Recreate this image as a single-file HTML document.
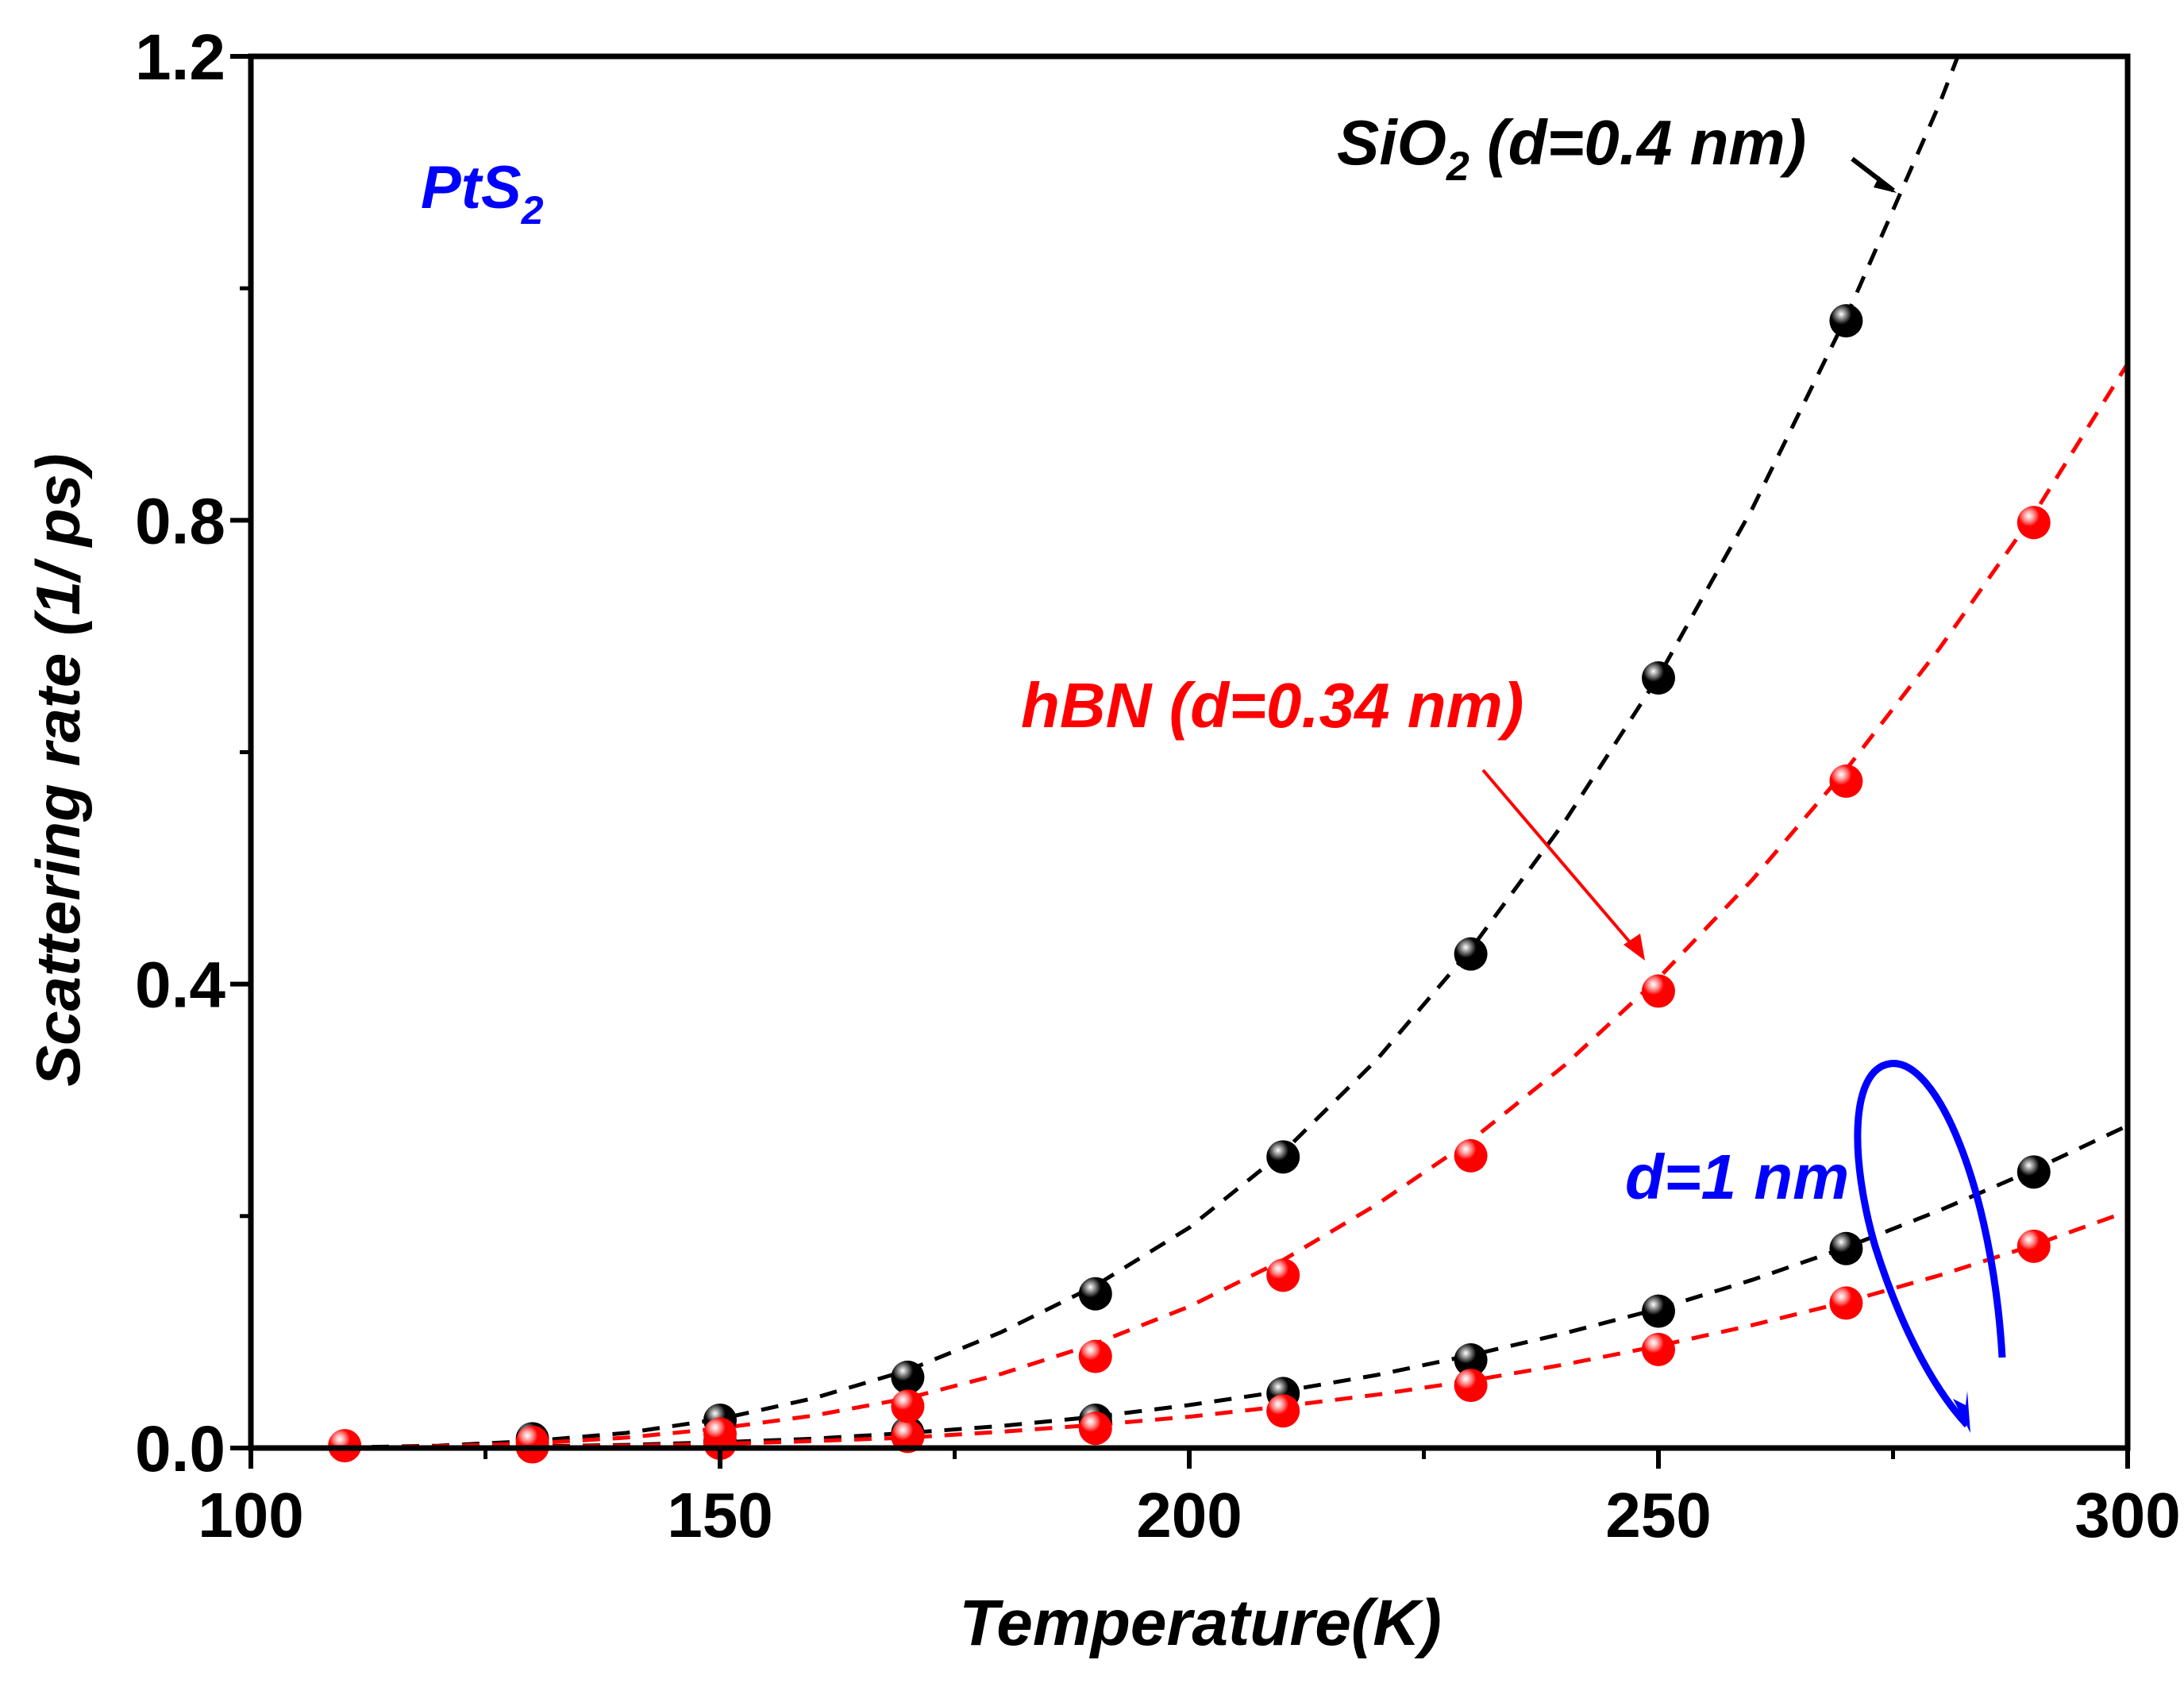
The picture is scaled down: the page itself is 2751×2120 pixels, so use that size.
<!DOCTYPE html>
<html><head><meta charset="utf-8"><style>
html,body{margin:0;padding:0;background:#fff;}
svg{display:block;}
text{font-family:"Liberation Sans",Arial,sans-serif;font-weight:bold;}
</style></head><body>
<svg id="chart" width="2751" height="2120" viewBox="0 0 2751 2120" xmlns="http://www.w3.org/2000/svg">
<defs>
<radialGradient id="gBlack" cx="0.35" cy="0.3" r="0.7">
<stop offset="0" stop-color="#fff"/><stop offset="0.15" stop-color="#aaa"/><stop offset="0.3" stop-color="#555"/><stop offset="0.45" stop-color="#000"/><stop offset="1" stop-color="#000"/></radialGradient>
<radialGradient id="gRed" cx="0.35" cy="0.3" r="0.7">
<stop offset="0" stop-color="#fff"/><stop offset="0.15" stop-color="#fbb"/><stop offset="0.3" stop-color="#f66"/><stop offset="0.45" stop-color="#f00"/><stop offset="1" stop-color="#f00"/></radialGradient>
</defs>
<g id="plot"></g>
<g id="axes"></g>
<text x="530" y="262" font-size="76" font-style="italic" fill="#0000ff">PtS<tspan font-size="50" dy="20">2</tspan></text>
<text x="1684" y="207" font-size="80" font-style="italic" fill="#000">SiO<tspan font-size="52" dy="20">2</tspan><tspan dy="-20"> (d=0.4 nm)</tspan></text>
<text x="1286" y="916" font-size="80" font-style="italic" fill="#ff0000">hBN (d=0.34 nm)</text>
<text x="2047" y="1510" font-size="80" font-style="italic" fill="#0000ff">d=1 nm</text>
<line x1="2333" y1="200" x2="2385" y2="240" stroke="#000" stroke-width="6"/>
<path d="M2367,222 L2389,243 L2360,236 z" fill="#000"/>
<line x1="1868" y1="970" x2="2060" y2="1195" stroke="#ff0000" stroke-width="4"/>
<path d="M2072,1210 L2045,1190 L2066,1176 z" fill="#ff0000"/>
<path d="M2522,1710 C2510,1500 2440,1330 2380,1340 C2330,1348 2330,1460 2362,1570 C2400,1690 2445,1760 2478,1795" fill="none" stroke="#0000ff" stroke-width="9"/>
<path d="M2482,1805 L2460,1762 L2476,1770 L2478,1752 z" fill="#0000ff"/>
<text x="1512" y="2072" font-size="82" font-style="italic" text-anchor="middle">Temperature(K)</text>
<text transform="translate(100,970) rotate(-90)" font-size="78" font-style="italic" text-anchor="middle">Scattering rate (1/ ps)</text>
</svg>
<script>
const xTicks=[100,150,200,250,300];
const xMinor=[125,175,225,275];
const yTicks=[0.0,0.4,0.8,1.2];
const yTickLabels=["0.0","0.4","0.8","1.2"];
const yMinor=[0.2,0.6,1.0];
const fitT=[100,110,120,130,140,150,160,170,180,190,200,210,220,230,240,250,260,270,280,290,300];
const fitSiO2=[0,0.0005,0.002,0.006,0.013,0.025,0.043,0.067,0.1,0.14,0.19,0.255,0.335,0.43,0.54,0.665,0.81,0.975,1.16,1.37,1.6];
const fitHBN=[0,0.0003,0.0015,0.004,0.009,0.017,0.028,0.043,0.064,0.09,0.122,0.162,0.21,0.265,0.33,0.405,0.49,0.585,0.69,0.805,0.935];
const fitSiO2d1=[0,0.0002,0.0006,0.0013,0.0027,0.005,0.008,0.013,0.019,0.027,0.037,0.049,0.063,0.08,0.099,0.12,0.145,0.173,0.205,0.24,0.278];
const fitHBNd1=[0,0.0001,0.0004,0.001,0.002,0.0035,0.006,0.009,0.014,0.02,0.027,0.036,0.046,0.058,0.072,0.088,0.106,0.126,0.149,0.175,0.204];
const tSiO2=[130,150,170,190,210,230,250,270];
const vSiO2=[0.008,0.024,0.061,0.133,0.251,0.426,0.664,0.972];
const tHBN=[110,130,150,170,190,210,230,250,270,290];
const vHBN=[0.002,0.005,0.012,0.036,0.079,0.149,0.252,0.394,0.575,0.798];
const tSiO2d1=[150,170,190,210,230,250,270,290];
const vSiO2d1=[0.006,0.013,0.024,0.047,0.076,0.118,0.172,0.238];
const tHBNd1=[130,150,170,190,210,230,250,270,290];
const vHBNd1=[0.001,0.004,0.010,0.017,0.032,0.054,0.085,0.125,0.174];

const L=316,R=2680,T=71,B=1824;
const X=v=>L+(v-100)/200*(R-L);
const Y=v=>B-v/1.2*(B-T);
const NS="http://www.w3.org/2000/svg";
const plot=document.getElementById('plot'),axes=document.getElementById('axes');
function mk(tag,attrs,parent){const e=document.createElementNS(NS,tag);for(const k in attrs)e.setAttribute(k,attrs[k]);parent.appendChild(e);return e;}
const clip=mk('clipPath',{id:'clipPlot'},document.querySelector('defs'));
mk('rect',{x:L,y:T,width:R-L,height:B-T},clip);
function fit(vals,color,name){
  const d=fitT.map((t,i)=>(i?'L':'M')+X(t).toFixed(1)+','+Y(vals[i]).toFixed(1)).join(' ');
  const p=mk('path',{d:d,fill:'none',stroke:color,'stroke-width':5,'stroke-dasharray':'22,16','clip-path':'url(#clipPlot)'},plot);
  
  
}
fit(fitSiO2d1,'#000','fit-sio2-d1nm');
fit(fitHBNd1,'#f00','fit-hbn-d1nm');
fit(fitSiO2,'#000','fit-sio2-d04nm');
fit(fitHBN,'#f00','fit-hbn-d034nm');
function pts(ts,vs,grad,name){
  ts.forEach((t,i)=>{
    const c=mk('circle',{cx:X(t),cy:Y(vs[i]),r:21,fill:'url(#'+grad+')'},plot);
    
    
  });
}
pts(tSiO2d1,vSiO2d1,'gBlack','sio2-d1nm');
pts(tHBNd1,vHBNd1,'gRed','hbn-d1nm');
pts(tSiO2,vSiO2,'gBlack','sio2-d04nm');
pts(tHBN,vHBN,'gRed','hbn-d034nm');
const fr=mk('rect',{x:L,y:T,width:R-L,height:B-T,fill:'none',stroke:'#000','stroke-width':7},axes);


xTicks.forEach(v=>{
  const l=mk('line',{x1:X(v),x2:X(v),y1:B,y2:B+26,stroke:'#000','stroke-width':6},axes);
  
  
  const t=mk('text',{x:X(v),y:B+112,'font-size':80,'text-anchor':'middle'},axes);
  t.textContent=v;
  
  
});
xMinor.forEach(v=>{
  const l=mk('line',{x1:X(v),x2:X(v),y1:B,y2:B+14,stroke:'#000','stroke-width':5},axes);
  
  
});
yTicks.forEach((v,i)=>{
  const l=mk('line',{x1:L-26,x2:L,y1:Y(v),y2:Y(v),stroke:'#000','stroke-width':6},axes);
  
  
  const t=mk('text',{x:L-32,y:Y(v)+29,'font-size':82,'text-anchor':'end'},axes);
  t.textContent=yTickLabels[i];
  
  
});
yMinor.forEach(v=>{
  const l=mk('line',{x1:L-14,x2:L,y1:Y(v),y2:Y(v),stroke:'#000','stroke-width':5},axes);
  
  
});
</script>
</body></html>
